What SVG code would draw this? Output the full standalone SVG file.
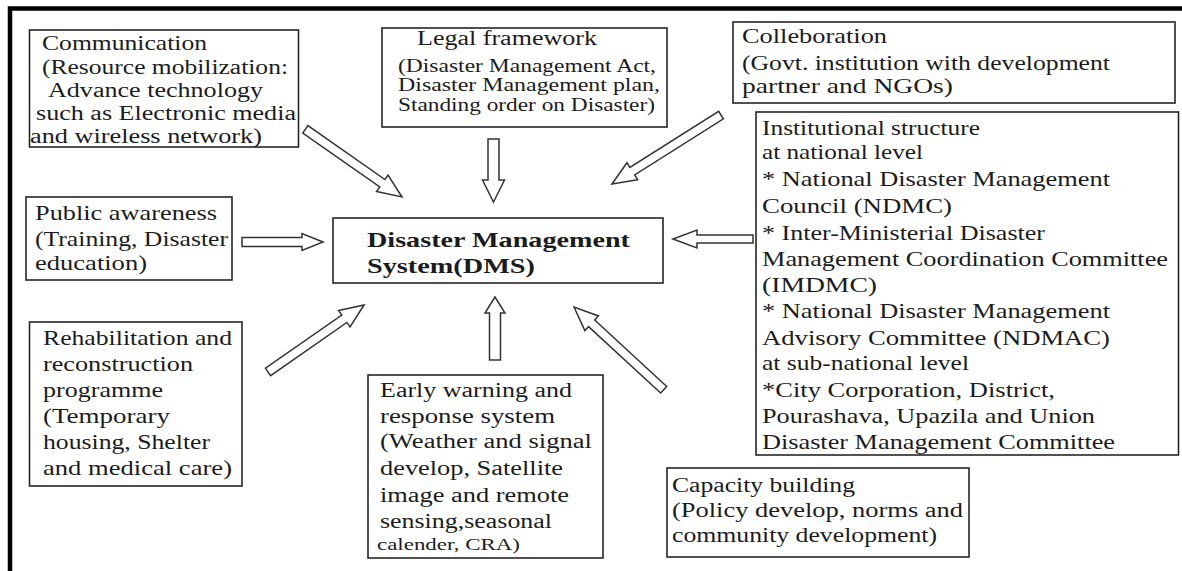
<svg xmlns="http://www.w3.org/2000/svg" width="1182" height="571" viewBox="0 0 1182 571">
<style>
.box{fill:#fff;stroke:#262626;stroke-width:1.6}
.t{font-family:"Liberation Serif","Times New Roman",serif;fill:#1c1c1c}
.b{font-weight:bold}
.arrow{fill:#fff;stroke:#333;stroke-width:1.5;stroke-linejoin:miter}
.frame{fill:none;stroke:#000;stroke-width:4.5}
</style>
<rect x="0" y="0" width="1182" height="571" fill="#fff"/>
<path class="frame" d="M10,571 V8.5 H1182"/>

<g id="connectors">
  <polygon class="arrow" transform="translate(402,197) rotate(35)" points="0,0 -24,-10 -24,-4.5 -118,-4.5 -118,4.5 -24,4.5 -24,10"/>
  <polygon class="arrow" transform="translate(493.5,202) rotate(90)" points="0,0 -22,-11 -22,-5.5 -63,-5.5 -63,5.5 -22,5.5 -22,11"/>
  <polygon class="arrow" transform="translate(612,184) rotate(147.7)" points="0,0 -24,-10 -24,-4.5 -129,-4.5 -129,4.5 -24,4.5 -24,10"/>
  <polygon class="arrow" transform="translate(323,242)" points="0,0 -21,-8.5 -21,-4.5 -81,-4.5 -81,4.5 -21,4.5 -21,8.5"/>
  <polygon class="arrow" transform="translate(673,239) rotate(180)" points="0,0 -24,-9 -24,-4 -80,-4 -80,4 -24,4 -24,9"/>
  <polygon class="arrow" transform="translate(364,305) rotate(-34.9)" points="0,0 -24,-10 -24,-4.5 -117,-4.5 -117,4.5 -24,4.5 -24,10"/>
  <polygon class="arrow" transform="translate(495,297) rotate(-90)" points="0,0 -16,-10 -16,-5.5 -63,-5.5 -63,5.5 -16,5.5 -16,10"/>
  <polygon class="arrow" transform="translate(574,307) rotate(-137.3)" points="0,0 -24,-10 -24,-4.5 -122,-4.5 -122,4.5 -24,4.5 -24,10"/>
</g>

<g id="communication">
  <rect class="box" x="29.5" y="30" width="269" height="117"/>
  <g class="t" font-size="20.5">
    <text x="42" y="50" font-size="22" textLength="165" lengthAdjust="spacingAndGlyphs">Communication</text>
    <text x="42" y="74" textLength="246" lengthAdjust="spacingAndGlyphs">(Resource mobilization:</text>
    <text x="48" y="97" textLength="215" lengthAdjust="spacingAndGlyphs">Advance technology</text>
    <text x="36" y="120" textLength="260" lengthAdjust="spacingAndGlyphs">such as Electronic media</text>
    <text x="30" y="143" textLength="232" lengthAdjust="spacingAndGlyphs">and wireless network)</text>
  </g>
</g>

<g id="legal">
  <rect class="box" x="382" y="28" width="285" height="99"/>
  <g class="t">
    <text x="417" y="45" font-size="20" textLength="180" lengthAdjust="spacingAndGlyphs">Legal framework</text>
    <text x="398" y="72" font-size="18.5" textLength="258" lengthAdjust="spacingAndGlyphs">(Disaster Management Act,</text>
    <text x="398" y="91" font-size="18.5" textLength="262" lengthAdjust="spacingAndGlyphs">Disaster  Management plan,</text>
    <text x="398" y="111" font-size="18.5" textLength="257" lengthAdjust="spacingAndGlyphs">Standing order on Disaster)</text>
  </g>
</g>

<g id="colleboration">
  <rect class="box" x="733" y="22" width="442" height="81"/>
  <g class="t" font-size="22">
    <text x="742" y="43" textLength="145" lengthAdjust="spacingAndGlyphs">Colleboration</text>
    <text x="742" y="70" textLength="368" lengthAdjust="spacingAndGlyphs">(Govt. institution with development</text>
    <text x="742" y="93" textLength="211" lengthAdjust="spacingAndGlyphs">partner and NGOs)</text>
  </g>
</g>

<g id="institutional">
  <rect class="box" x="756" y="112" width="422.5" height="343"/>
  <g class="t" font-size="21.5">
    <text x="762" y="135" textLength="218" lengthAdjust="spacingAndGlyphs">Institutional structure</text>
    <text x="762" y="159" textLength="161" lengthAdjust="spacingAndGlyphs">at national level</text>
    <text x="762" y="186" textLength="348" lengthAdjust="spacingAndGlyphs">* National Disaster Management</text>
    <text x="762" y="213" textLength="190" lengthAdjust="spacingAndGlyphs">Council (NDMC)</text>
    <text x="762" y="240" textLength="283" lengthAdjust="spacingAndGlyphs">* Inter-Ministerial Disaster</text>
    <text x="762" y="266" textLength="406" lengthAdjust="spacingAndGlyphs">Management Coordination Committee</text>
    <text x="762" y="292" textLength="115" lengthAdjust="spacingAndGlyphs">(IMDMC)</text>
    <text x="762" y="318" textLength="348" lengthAdjust="spacingAndGlyphs">* National Disaster Management</text>
    <text x="762" y="345" textLength="348" lengthAdjust="spacingAndGlyphs">Advisory Committee (NDMAC)</text>
    <text x="762" y="370" textLength="207" lengthAdjust="spacingAndGlyphs">at sub-national level</text>
    <text x="762" y="397" textLength="293" lengthAdjust="spacingAndGlyphs">*City Corporation, District,</text>
    <text x="762" y="423" textLength="333" lengthAdjust="spacingAndGlyphs">Pourashava, Upazila and Union</text>
    <text x="762" y="449" textLength="353" lengthAdjust="spacingAndGlyphs">Disaster Management Committee</text>
  </g>
</g>

<g id="public-awareness">
  <rect class="box" x="26" y="197" width="206" height="83"/>
  <g class="t" font-size="21">
    <text x="35" y="220" textLength="182" lengthAdjust="spacingAndGlyphs">Public awareness</text>
    <text x="35" y="246" textLength="193" lengthAdjust="spacingAndGlyphs">(Training, Disaster</text>
    <text x="35" y="270" textLength="112" lengthAdjust="spacingAndGlyphs">education)</text>
  </g>
</g>

<g id="dms">
  <rect class="box" x="333" y="218" width="330" height="65"/>
  <g class="t b" font-size="21">
    <text x="367" y="247" textLength="263" lengthAdjust="spacingAndGlyphs">Disaster Management</text>
    <text x="367" y="273" textLength="168" lengthAdjust="spacingAndGlyphs">System(DMS)</text>
  </g>
</g>

<g id="rehabilitation">
  <rect class="box" x="29.5" y="322" width="212.5" height="164"/>
  <g class="t" font-size="21">
    <text x="43" y="345" textLength="189" lengthAdjust="spacingAndGlyphs">Rehabilitation and</text>
    <text x="43" y="371" textLength="150" lengthAdjust="spacingAndGlyphs">reconstruction</text>
    <text x="43" y="397" textLength="120" lengthAdjust="spacingAndGlyphs">programme</text>
    <text x="43" y="423" textLength="127" lengthAdjust="spacingAndGlyphs">(Temporary</text>
    <text x="43" y="449" textLength="167" lengthAdjust="spacingAndGlyphs">housing, Shelter</text>
    <text x="43" y="475" textLength="189" lengthAdjust="spacingAndGlyphs">and medical care)</text>
  </g>
</g>

<g id="early-warning">
  <rect class="box" x="368" y="375" width="235" height="183"/>
  <g class="t" font-size="20.5">
    <text x="380" y="397" textLength="192" lengthAdjust="spacingAndGlyphs">Early warning and</text>
    <text x="380" y="423" textLength="175" lengthAdjust="spacingAndGlyphs">response system</text>
    <text x="380" y="448" textLength="212" lengthAdjust="spacingAndGlyphs">(Weather and signal</text>
    <text x="380" y="475" textLength="183" lengthAdjust="spacingAndGlyphs">develop, Satellite</text>
    <text x="380" y="502" textLength="189" lengthAdjust="spacingAndGlyphs">image and remote</text>
    <text x="380" y="528" textLength="172" lengthAdjust="spacingAndGlyphs">sensing,seasonal</text>
    <text x="377" y="550" font-size="17" textLength="143" lengthAdjust="spacingAndGlyphs">calender, CRA)</text>
  </g>
</g>

<g id="capacity-building">
  <rect class="box" x="667" y="468" width="302" height="89"/>
  <g class="t" font-size="20.5">
    <text x="672" y="492" textLength="183" lengthAdjust="spacingAndGlyphs">Capacity building</text>
    <text x="672" y="517" textLength="291" lengthAdjust="spacingAndGlyphs">(Policy develop, norms and</text>
    <text x="672" y="542" textLength="265" lengthAdjust="spacingAndGlyphs">community development)</text>
  </g>
</g>
</svg>
